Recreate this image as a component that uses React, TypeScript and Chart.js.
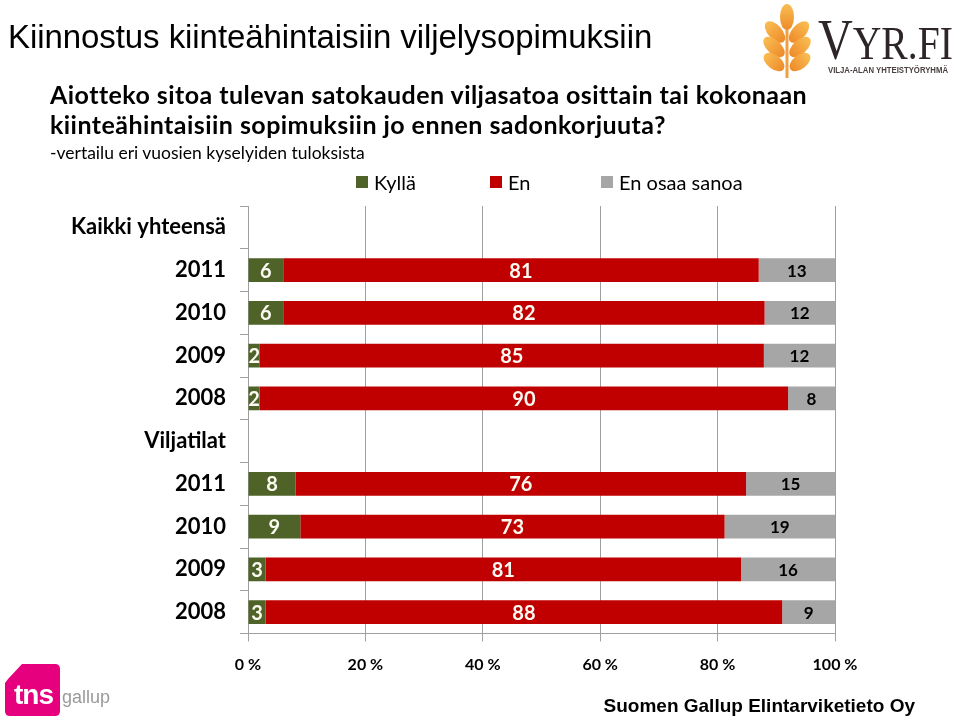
import React, { useEffect, useRef } from "react";
import { Chart, registerables } from "chart.js";

Chart.register(...registerables);

// ---- data ----
const categories = [
  "Kaikki yhteensä",
  "2011",
  "2010",
  "2009",
  "2008",
  "Viljatilat",
  "2011",
  "2010",
  "2009",
  "2008",
];
const seriesNames = ["Kyllä", "En", "En osaa sanoa"];
const kylla: (number | null)[] = [null, 6, 6, 2, 2, null, 8, 9, 3, 3];
const en: (number | null)[] = [null, 81, 82, 85, 90, null, 76, 73, 81, 88];
const eiOsaa: (number | null)[] = [null, 13, 12, 12, 8, null, 15, 19, 16, 9];
const xTickValues = [0, 20, 40, 60, 80, 100];

const seriesColors = ["#4F6228", "#C00000", "#A6A6A6"];
const labelColors = ["#FAFAF2", "#FAFAF2", "#000000"];
const labelSizes = [20, 20, 17];
const FONT = "Lato, 'Open Sans', sans-serif";

const rawSeries = [kylla, en, eiOsaa];

const barLabelPlugin = {
  id: "barLabels",
  afterDatasetsDraw(chart: any) {
    const ctx = chart.ctx;
    ctx.save();
    ctx.textAlign = "center";
    ctx.textBaseline = "middle";
    chart.data.datasets.forEach((_ds: any, i: number) => {
      const meta = chart.getDatasetMeta(i);
      ctx.font = `bold ${labelSizes[i]}px ${FONT}`;
      ctx.fillStyle = labelColors[i];
      meta.data.forEach((bar: any, j: number) => {
        const v = rawSeries[i][j];
        if (v == null) return;
        const p = bar.getProps(["x", "base", "y"], true);
        ctx.fillText(String(v), (p.x + p.base) / 2, p.y + 1);
      });
    });
    ctx.restore();
  },
};

function ChartCanvas() {
  const ref = useRef<HTMLCanvasElement | null>(null);
  useEffect(() => {
    if (!ref.current) return;
    const totals = categories.map((_, i) =>
      rawSeries.reduce((s, arr) => s + (arr[i] ?? 0), 0)
    );
    const chart = new Chart(ref.current, {
      type: "bar",
      data: {
        labels: categories,
        datasets: rawSeries.map((arr, k) => ({
          label: seriesNames[k],
          data: arr.map((v, i) => (v == null ? null : (v / totals[i]) * 100)),
          backgroundColor: seriesColors[k],
          borderWidth: 0,
          barPercentage: 0.56,
          categoryPercentage: 1,
        })),
      },
      options: {
        indexAxis: "y",
        responsive: false,
        animation: false,
        events: [],
        layout: { padding: { top: 206, right: 125, bottom: 0, left: 0 } },
        plugins: {
          legend: { display: false },
          tooltip: { enabled: false },
          title: { display: false },
        },
        scales: {
          x: {
            type: "linear",
            stacked: true,
            min: 0,
            max: 100,
            afterBuildTicks: (s: any) => {
              s.ticks = xTickValues.map((v) => ({ value: v }));
            },
            ticks: {
              callback: (v: any) => `${v} %`,
              font: { family: FONT, weight: "bold", size: 16 },
              color: "#000",
              padding: 14,
              maxRotation: 0,
            },
            grid: {
              color: "#A0A0A0",
              lineWidth: 1,
              tickLength: 8,
              drawOnChartArea: true,
            },
            border: { color: "#A0A0A0" },
            afterFit: (s: any) => {
              s.height = 721 - 633.5;
            },
          },
          y: {
            type: "category",
            stacked: true,
            ticks: {
              autoSkip: false,
              color: "#000",
              padding: 14,
              font: { family: FONT, size: 22, weight: "bold" },
            },
            grid: {
              drawOnChartArea: false,
              tickLength: 8,
              color: "#A0A0A0",
              offset: true,
            },
            border: { color: "#A0A0A0" },
            afterFit: (s: any) => {
              s.width = 248;
            },
          },
        },
      } as any,
      plugins: [barLabelPlugin],
    });
    return () => chart.destroy();
  }, []);
  return (
    <canvas
      ref={ref}
      width={960}
      height={721}
      style={{ position: "absolute", left: 0, top: 0, width: 960, height: 721 }}
    />
  );
}

function VyrLogo() {
  const grains = [
    { cx: 787, cy: 17, rx: 7, ry: 13, rot: 0 },
    { cx: 775, cy: 32, rx: 7, ry: 13, rot: -42 },
    { cx: 799, cy: 32, rx: 7, ry: 13, rot: 42 },
    { cx: 774, cy: 47, rx: 7, ry: 13, rot: -48 },
    { cx: 800, cy: 47, rx: 7, ry: 13, rot: 48 },
    { cx: 774, cy: 62, rx: 7, ry: 12, rot: -52 },
    { cx: 800, cy: 62, rx: 7, ry: 12, rot: 52 },
  ];
  return (
    <>
      <svg
        width={960}
        height={90}
        style={{ position: "absolute", left: 0, top: 0 }}
      >
        <defs>
          <linearGradient id="wheat" x1="0" y1="0" x2="0" y2="1">
            <stop offset="0%" stopColor="#F9BE52" />
            <stop offset="100%" stopColor="#EE8A2A" />
          </linearGradient>
        </defs>
        <path d="M787 30 L787 78" stroke="#F0A040" strokeWidth={3} />
        {grains.map((g, i) => (
          <ellipse
            key={i}
            cx={g.cx}
            cy={g.cy}
            rx={g.rx}
            ry={g.ry}
            fill="url(#wheat)"
            transform={`rotate(${g.rot} ${g.cx} ${g.cy})`}
          />
        ))}
      </svg>
      <div
        style={{
          position: "absolute",
          left: 818,
          top: 12,
          fontFamily: "'Liberation Serif', 'DejaVu Serif', serif",
          fontSize: 56,
          lineHeight: "56px",
          color: "#2E2626",
          whiteSpace: "nowrap",
          transform: "scaleX(0.86)",
          transformOrigin: "left top",
        }}
      >
        <span>V</span>
        <span style={{ fontSize: 46 }}>YR.FI</span>
      </div>
      <div
        style={{
          position: "absolute",
          left: 828,
          top: 65,
          fontFamily: "'Liberation Sans Narrow', 'Liberation Sans', sans-serif",
          fontWeight: "bold",
          fontSize: 9,
          lineHeight: "10px",
          color: "#4A4040",
          whiteSpace: "nowrap",
          transform: "scaleX(0.86)",
          transformOrigin: "left top",
        }}
      >
        VILJA-ALAN YHTEISTYÖRYHMÄ
      </div>
    </>
  );
}

function TnsLogo() {
  return (
    <>
      <svg
        width={120}
        height={70}
        style={{ position: "absolute", left: 0, top: 655 }}
      >
        <path
          d="M8 24 L22 9 L55 9 Q60 9 60 14 L60 56 Q60 61 55 61 L10 61 Q5 61 5 56 L5 28 Z"
          fill="#E6007E"
        />
      </svg>
      <div
        style={{
          position: "absolute",
          left: 14,
          top: 681,
          fontFamily: "'Liberation Sans', Arial, sans-serif",
          fontWeight: "bold",
          fontSize: 28,
          lineHeight: "28px",
          color: "#fff",
          letterSpacing: -1,
        }}
      >
        tns
      </div>
      <div
        style={{
          position: "absolute",
          left: 62,
          top: 688,
          fontFamily: "'Liberation Sans Narrow', 'Liberation Sans', sans-serif",
          fontSize: 18,
          lineHeight: "18px",
          color: "#9A9A9A",
        }}
      >
        gallup
      </div>
    </>
  );
}

export default function App() {
  const text = (
    s: string,
    left: number,
    top: number,
    size: number,
    extra: any = {}
  ) => (
    <div
      style={{
        position: "absolute",
        left,
        top,
        fontSize: size,
        lineHeight: `${size}px`,
        whiteSpace: "nowrap",
        color: "#000",
        fontFamily: FONT,
        ...extra,
      }}
    >
      {s}
    </div>
  );
  return (
    <div
      style={{
        position: "fixed",
        left: 0,
        top: 0,
        width: 960,
        height: 721,
        background: "#fff",
        overflow: "hidden",
      }}
    >
      <ChartCanvas />
      {text("Kiinnostus kiinteähintaisiin viljelysopimuksiin", 8, 20, 33, {
        fontFamily: "'Liberation Sans', Arial, sans-serif",
        letterSpacing: -0.07,
      })}
      {text(
        "Aiotteko sitoa tulevan satokauden viljasatoa osittain tai kokonaan",
        50,
        82,
        25,
        { fontWeight: "bold", letterSpacing: 0.45 }
      )}
      {text(
        "kiinteähintaisiin sopimuksiin jo ennen sadonkorjuuta?",
        50,
        112,
        25,
        { fontWeight: "bold", letterSpacing: 0.45 }
      )}
      {text("-vertailu eri vuosien kyselyiden tuloksista", 50, 144, 17.5)}
      <div
        style={{
          position: "absolute",
          left: 356,
          top: 171,
          height: 22,
          display: "flex",
          alignItems: "center",
          fontFamily: FONT,
          fontSize: 20,
          whiteSpace: "nowrap",
        }}
      >
        {seriesNames.map((n, i) => (
          <div
            key={n}
            style={{
              display: "flex",
              alignItems: "center",
              width: i === 0 ? 134 : i === 1 ? 111 : undefined,
            }}
          >
            <span
              style={{
                display: "inline-block",
                width: 12,
                height: 12,
                background: seriesColors[i],
                marginRight: 6,
              }}
            />
            <span>{n}</span>
          </div>
        ))}
      </div>
      <VyrLogo />
      <TnsLogo />
      <div
        style={{
          position: "absolute",
          right: 45,
          top: 696,
          fontFamily: "'Liberation Sans', Arial, sans-serif",
          fontWeight: "bold",
          fontSize: 19,
          lineHeight: "19px",
          whiteSpace: "nowrap",
          color: "#000",
        }}
      >
        Suomen Gallup Elintarviketieto Oy
      </div>
    </div>
  );
}
